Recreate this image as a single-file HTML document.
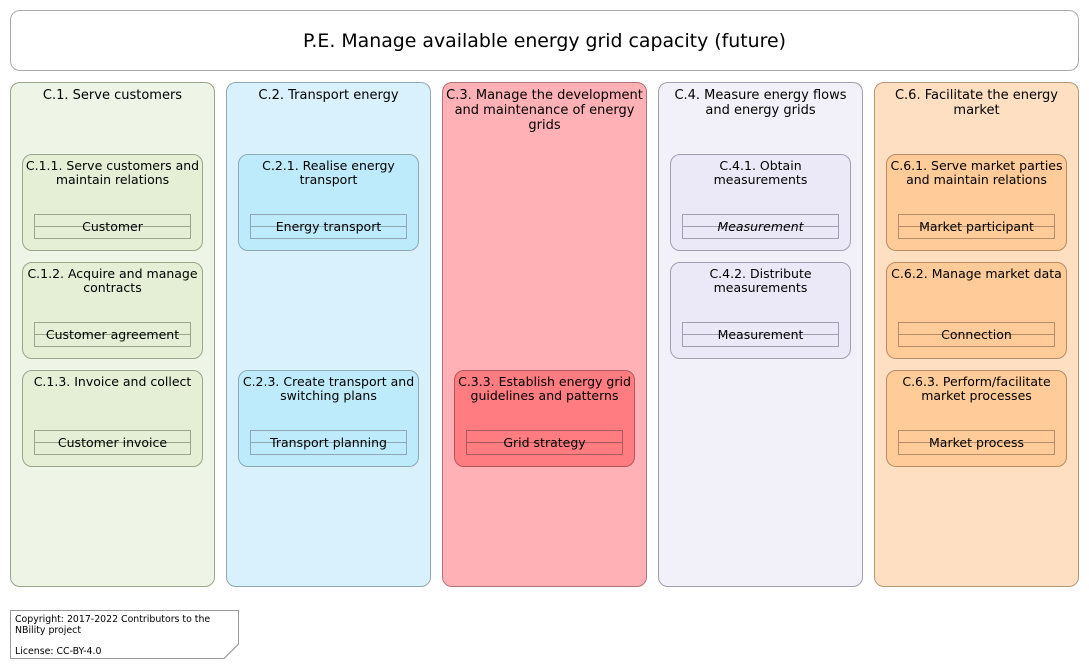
<!DOCTYPE html>
<html><head><meta charset="utf-8"><style>
body{margin:0;width:1089px;height:669px;background:#fff;position:relative;font-family:"DejaVu Sans","Liberation Sans",sans-serif;color:#000;overflow:hidden}
.a{position:absolute;box-sizing:border-box}
.col{border:1px solid #999;border-radius:10px;width:205px;height:505px;top:82px}
.ct{position:absolute;left:8px;right:8px;top:5px;text-align:center;font-size:13px;line-height:15px}
.in{border:1px solid;border-radius:10px;width:181px;height:97px}
.it{position:absolute;left:3px;right:3px;top:4px;text-align:center;font-size:12.5px;line-height:14px}
.en{position:absolute;box-sizing:border-box;left:11px;top:59px;width:157px;height:25px;border:1px solid}
.en span{position:absolute;left:0;right:0;top:4px;text-align:center;font-size:12.5px;line-height:15px}
.en i.l{position:absolute;left:0;right:0;top:11px;border-top:1px solid;border-color:inherit}
</style></head><body>
<div class="a" style="left:10px;top:10px;width:1069px;height:61px;border:1px solid #aaa;border-radius:10px;text-align:center;font-size:18.9px;line-height:61px">P.E. Manage available energy grid capacity (future)</div>

<div class="a col" style="left:10px;background:#eef4e6;border-color:#9aa58c"><div class="ct">C.1. Serve customers</div></div>
<div class="a col" style="left:226px;background:#d9f1fc;border-color:#8fa8b4"><div class="ct">C.2. Transport energy</div></div>
<div class="a col" style="left:442px;background:#ffb1b5;border-color:#b07478"><div class="ct" style="left:2px;right:2px">C.3. Manage the development and maintenance of energy grids</div></div>
<div class="a col" style="left:658px;background:#f2f1fa;border-color:#a09fb0"><div class="ct">C.4. Measure energy flows and energy grids</div></div>
<div class="a col" style="left:874px;background:#ffdfc2;border-color:#b49878"><div class="ct">C.6. Facilitate the energy market</div></div>

<!-- C1 -->
<div class="a in" style="left:22px;top:154px;background:#e4efd6;border-color:#9aa58c"><div class="it" style="left:1px;right:1px">C.1.1. Serve customers and maintain relations</div><div class="en" style="border-color:#9aa58c"><i class="l"></i><span>Customer</span></div></div>
<div class="a in" style="left:22px;top:262px;background:#e4efd6;border-color:#9aa58c"><div class="it" style="left:1px;right:1px">C.1.2. Acquire and manage contracts</div><div class="en" style="border-color:#9aa58c"><i class="l"></i><span>Customer agreement</span></div></div>
<div class="a in" style="left:22px;top:370px;background:#e4efd6;border-color:#9aa58c"><div class="it">C.1.3. Invoice and collect</div><div class="en" style="border-color:#9aa58c"><i class="l"></i><span>Customer invoice</span></div></div>
<!-- C2 -->
<div class="a in" style="left:238px;top:154px;background:#beebfb;border-color:#8fa8b4"><div class="it">C.2.1. Realise energy transport</div><div class="en" style="border-color:#8fa8b4"><i class="l"></i><span>Energy transport</span></div></div>
<div class="a in" style="left:238px;top:370px;background:#beebfb;border-color:#8fa8b4"><div class="it">C.2.3. Create transport and switching plans</div><div class="en" style="border-color:#8fa8b4"><i class="l"></i><span>Transport planning</span></div></div>
<!-- C3 -->
<div class="a in" style="left:454px;top:370px;background:#ff7c80;border-color:#b0585c"><div class="it" style="left:1px;right:1px">C.3.3. Establish energy grid guidelines and patterns</div><div class="en" style="border-color:#b0585c"><i class="l"></i><span>Grid strategy</span></div></div>
<!-- C4 -->
<div class="a in" style="left:670px;top:154px;background:#ebe9f7;border-color:#a09fb0"><div class="it">C.4.1. Obtain measurements</div><div class="en" style="border-color:#a09fb0"><i class="l"></i><span style="font-style:italic">Measurement</span></div></div>
<div class="a in" style="left:670px;top:262px;background:#ebe9f7;border-color:#a09fb0"><div class="it">C.4.2. Distribute measurements</div><div class="en" style="border-color:#a09fb0"><i class="l"></i><span>Measurement</span></div></div>
<!-- C6 -->
<div class="a in" style="left:886px;top:154px;background:#ffcb98;border-color:#b48c68"><div class="it" style="left:1px;right:1px">C.6.1. Serve market parties and maintain relations</div><div class="en" style="border-color:#b48c68"><i class="l"></i><span>Market participant</span></div></div>
<div class="a in" style="left:886px;top:262px;background:#ffcb98;border-color:#b48c68"><div class="it">C.6.2. Manage market data</div><div class="en" style="border-color:#b48c68"><i class="l"></i><span>Connection</span></div></div>
<div class="a in" style="left:886px;top:370px;background:#ffcb98;border-color:#b48c68"><div class="it">C.6.3. Perform/facilitate market processes</div><div class="en" style="border-color:#b48c68"><i class="l"></i><span>Market process</span></div></div>

<svg class="a" style="left:10px;top:610px" width="230" height="50"><path d="M0.5 0.5H228.5V34L214 48.5H0.5Z" fill="#fff" stroke="#999"/><path d="M228.5 34L214 48.5" stroke="#999"/></svg>
<div class="a" style="left:15px;top:615px;font-size:9.4px;line-height:10.5px">Copyright: 2017-2022 Contributors to the<br>NBility project<br><br>License: CC-BY-4.0</div>
</body></html>
